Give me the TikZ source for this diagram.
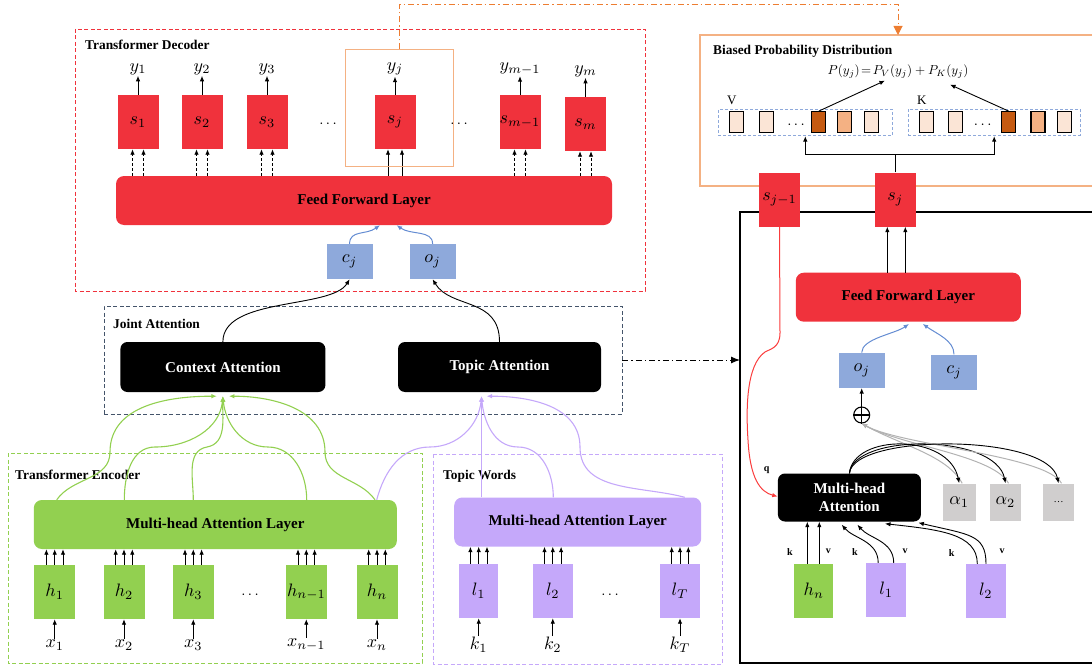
\documentclass[tikz,border=0pt]{standalone}
\usepackage{fontspec}
\setmainfont{Liberation Serif}
\usetikzlibrary{arrows.meta}

\definecolor{decred}{RGB}{240,50,60}
\definecolor{encgreen}{RGB}{146,208,80}
\definecolor{toppurple}{RGB}{197,168,250}
\definecolor{ctxblue}{RGB}{142,169,219}
\definecolor{arrowblue}{RGB}{100,140,210}
\definecolor{alphagray}{RGB}{208,206,206}
\definecolor{lineorange}{RGB}{244,177,131}
\definecolor{dashorange}{RGB}{237,125,49}
\definecolor{slate}{RGB}{68,84,106}
\definecolor{darkbrown}{RGB}{197,90,17}
\definecolor{palepeach}{RGB}{251,229,214}
\definecolor{qred}{RGB}{250,60,60}

\newcommand\mth[1]{\scalebox{1.8}{\normalsize$#1$}}
\newcommand\mdots{\scalebox{1.5}{\normalsize$\cdots$}}
\newcommand\bfs{\bfseries\fontsize{15}{17}\selectfont}
\newcommand\gfs{\bfseries\fontsize{13.4}{15}\selectfont}

\tikzset{
  cell/.style={inner sep=0pt, minimum width=41pt, minimum height=54pt},
  redcell/.style={cell, fill=decred},
  greencell/.style={cell, fill=encgreen},
  purplecell/.style={cell, fill=toppurple, minimum width=39.5pt},
  bluecell/.style={cell, fill=ctxblue, minimum width=46pt, minimum height=35pt},
  graycell/.style={cell, fill=alphagray, minimum width=32pt, minimum height=37pt},
  layer/.style={rounded corners=8pt, inner sep=0pt, minimum height=49pt, font=\bfs},
  attn/.style={layer, fill=black, text=white, rounded corners=7pt, minimum height=50pt},
  group/.style={dash pattern=on 4pt off 2.5pt, line width=0.8pt, inner sep=0pt},
  grouplabel/.style={anchor=west, inner sep=0pt, font=\gfs},
  lbl/.style={inner sep=1pt},
  dots/.style={inner sep=0pt},
  arr/.style={-{Latex[length=5.5pt,width=4.5pt]}, line width=0.9pt},
  dasharr/.style={arr, dash pattern=on 3pt off 2pt},
  greenarr/.style={arr, encgreen, line width=1.1pt},
  purplearr/.style={arr, toppurple, line width=1.1pt},
  bluearr/.style={arr, arrowblue, line width=1pt},
  grayarr/.style={arr, gray!60, line width=1pt},
  redarr/.style={arr, qred, line width=1pt},
  probcell/.style={draw, line width=1.1pt, minimum width=14pt, minimum height=21pt, inner sep=0pt},
  kv/.style={inner sep=0pt, font=\bfseries\fontsize{10}{12}\selectfont},
}

\begin{document}
\begin{tikzpicture}[x=1pt,y=-1pt]
\useasboundingbox (0,0) rectangle (1092,666);

% decoder
\draw[group, draw=decred] (75,29) rectangle (645,291);
\node[grouplabel] at (85,45) {Transformer Decoder};
\node[layer, fill=decred, minimum width=496pt] (ffl) at (364,200.5) {Feed Forward Layer};
\foreach \n/\x/\y/\i in {1/138/122/1, 2/202/122/2, 3/267/122/3, j/395/122/j, m1/520/122/{m-1}, m/585.5/124/m}{
  \node[redcell] (s\n) at (\x,\y) {\mth{s_{\i}}};
  \node[lbl] (y\n) at (\x,\y-53) {\mth{y_{\i}}};
  \draw[arr] (s\n.north) -- (y\n.south);
}
\foreach \n in {1,2,3,m1,m}{
  \draw[dasharr] ([xshift=-5.5pt]s\n.south |- ffl.north) -- ([xshift=-5.5pt]s\n.south);
  \draw[dasharr] ([xshift=5.5pt]s\n.south |- ffl.north) -- ([xshift=5.5pt]s\n.south);
}
\draw[arr] ([xshift=-7pt]sj.south |- ffl.north) -- ([xshift=-7pt]sj.south);
\draw[arr] ([xshift=7pt]sj.south |- ffl.north) -- ([xshift=7pt]sj.south);
\node[dots] at (328,124) {\mdots};
\node[dots] at (459,124) {\mdots};
\node[draw=lineorange, line width=1pt, minimum width=108pt, minimum height=116pt, inner sep=0pt] (sel) at (399,108) {};

\node[bluecell] (cj) at (349.6,261.5) {\mth{c_j}};
\node[bluecell] (oj) at (432.6,261.5) {\mth{o_j}};
\draw[bluearr] (cj.north) .. controls +(0,-14) and +(-14,10) .. ([xshift=16pt]ffl.south);
\draw[bluearr] (oj.north) .. controls +(0,-14) and +(14,10) .. ([xshift=32.6pt]ffl.south);

% joint attention
\node[group, draw=slate, minimum width=518pt, minimum height=108pt] (joint) at (363,360) {};
\node[grouplabel] at (113,324) {Joint Attention};
\node[attn, minimum width=205pt] (ctx) at (222.9,367) {Context Attention};
\node[attn, minimum width=203pt] (tpc) at (499.5,367) {Topic Attention};
\draw[arr] (ctx.north) .. controls +(0,-45) and +(-18,30) .. (cj.south);
\draw[arr] (tpc.north) .. controls +(0,-45) and +(18,30) .. (oj.south);
\coordinate (rin) at (740,360);
\draw[-{Latex[length=9pt,width=7pt]}, line width=1pt, dash pattern=on 6pt off 3pt on 1.5pt off 3pt] (joint.east) -- (rin);

% encoder
\draw[group, draw=encgreen] (8,453) rectangle (422,663);
\node[grouplabel] at (15,475) {Transformer Encoder};
\node[layer, fill=encgreen, minimum width=363pt] (emha) at (215.3,524.5) {Multi-head Attention Layer};
\foreach \n/\x/\i in {1/54.7/1, 2/124/2, 3/193.3/3, n1/306.3/{n-1}, n/377/n}{
  \node[greencell] (h\n) at (\x,592) {\mth{h_{\i}}};
  \node[lbl] (x\n) at (\x,645) {\mth{x_{\i}}};
  \draw[arr] (x\n.north) -- (h\n.south);
  \foreach \dx in {-8.3,0,8.3}
    \draw[arr] ([xshift=\dx pt]h\n.north) -- ([xshift=\dx pt]h\n.north |- emha.south);
}
\node[dots] at (250,595) {\mdots};

\draw[greenarr] ([xshift=-158.6pt]emha.north) to[out=55,in=-90] (110,452) to[out=90,in=180] ([xshift=-6pt,yshift=-4pt]ctx.south);
\draw[greenarr] ([xshift=-91pt]emha.north) to[out=90,in=180] (155,447) to[out=0,in=-95] ([yshift=-4pt]ctx.south);
\draw[greenarr] ([xshift=-22pt]emha.north) to[out=90,in=190] (207,447) to[out=10,in=-92] ([yshift=-4pt]ctx.south);
\draw[greenarr] ([xshift=91.4pt]emha.north) to[out=90,in=0] (268,447) to[out=180,in=-85] ([yshift=-4pt]ctx.south);
\draw[greenarr] ([xshift=159.7pt]emha.north) to[out=125,in=-90] (325,452) to[out=90,in=0] ([xshift=6pt,yshift=-4pt]ctx.south);

% topic words
\draw[group, draw=toppurple] (433,454) rectangle (722,664);
\node[grouplabel] at (443,476) {Topic Words};
\node[layer, fill=toppurple, minimum width=247pt] (tmha) at (577.7,522) {Multi-head Attention Layer};
\foreach \n/\x/\i in {1/478.7/1, 2/552.8/2, T/680/T}{
  \node[purplecell] (l\n) at (\x,591) {\mth{l_{\i}}};
  \node[lbl] (k\n) at (\x,645) {\mth{k_{\i}}};
  \draw[arr] (k\n.north) -- (l\n.south);
  \foreach \dx in {-8.3,0,8.3}
    \draw[arr] ([xshift=\dx pt]l\n.north) -- ([xshift=\dx pt]l\n.north |- tmha.south);
}
\node[dots] at (610,595) {\mdots};

\draw[purplearr] ([xshift=161.4pt]emha.north) to[out=75,in=180] (430,447) to[out=0,in=-95] ([xshift=-18pt,yshift=-4pt]tpc.south);
\draw[purplearr] ([xshift=-18pt]tpc.south |- tmha.north) -- ([xshift=-18pt,yshift=-4pt]tpc.south);
\draw[purplearr] ([xshift=-24.4pt]tmha.north) to[out=90,in=0] (518,447) to[out=180,in=-85] ([xshift=-18pt,yshift=-4pt]tpc.south);
\draw[purplearr] ([xshift=107pt]tmha.north) to[out=165,in=-90] (580,447) to[out=90,in=0] ([xshift=-13pt,yshift=-4pt]tpc.south);

% right panel
\draw[line width=1.5pt] (740,212) rectangle (1100,663);
\draw[lineorange, line width=1.2pt] (700,35) rectangle (1100,186);
\coordinate (ptop) at (898,35);
\draw[dashorange, line width=1pt, dash pattern=on 6pt off 3pt on 1.5pt off 3pt, -{Triangle[length=9pt,width=9pt]}] (sel.north) -- ++(0,-45) -| (ptop);

\node[grouplabel] at (713,51) {Biased Probability Distribution};
\node[inner sep=1pt] (pform) at (898,71.7) {\scalebox{1.3}{\normalsize$P(y_j)\!=\!P_V(y_j)+P_K(y_j)$}};
\node[inner sep=0pt, font=\fontsize{13}{15}\selectfont] at (731.7,100) {V};
\node[inner sep=0pt, font=\fontsize{13}{15}\selectfont] at (921.7,100) {K};
\node[draw=ctxblue, dash pattern=on 3pt off 2pt, line width=0.9pt, minimum width=174pt, minimum height=26.4pt, inner sep=0pt] (vbox) at (805.3,122.5) {};
\node[draw=ctxblue, dash pattern=on 3pt off 2pt, line width=0.9pt, minimum width=171.7pt, minimum height=26.4pt, inner sep=0pt] (kbox) at (994.2,122.5) {};
\foreach \nm/\x/\c in {v1/736.7/palepeach, v2/766.2/palepeach, v3/818.7/darkbrown, v4/844.5/lineorange, v5/871.2/palepeach,
                       k1/926.3/palepeach, k2/955.5/palepeach, k3/1008.7/darkbrown, k4/1038/lineorange, k5/1064.5/palepeach}
  \node[probcell, fill=\c] (\nm) at (\x,122.2) {};
\node[dots] at (796,125) {\mdots};
\node[dots] at (982.7,125) {\mdots};
\draw[arr] (v3.north) -- ([xshift=-13pt,yshift=-1pt]pform.south);
\draw[arr] (k3.north) -- ([xshift=52pt,yshift=-5pt]pform.south);

\node[redcell] (rsm1) at (779.5,199.5) {\mth{s_{j-1}}};
\node[redcell] (rsj) at (895.3,199.5) {\mth{s_j}};
\draw[line width=1pt] (rsj.north) -- ++(0,-18) coordinate (split);
\draw[arr] (split) -| (vbox.south);
\draw[arr] (split) -| (kbox.south);

\node[layer, fill=decred, minimum width=225pt] (rffl) at (908.3,297.2) {Feed Forward Layer};
\draw[arr] ([xshift=-8pt]rsj.south |- rffl.north) -- ([xshift=-8pt]rsj.south);
\draw[arr] ([xshift=10pt]rsj.south |- rffl.north) -- ([xshift=10pt]rsj.south);

\node[bluecell] (ro) at (861.7,370.3) {\mth{o_j}};
\node[bluecell] (rc) at (954,372) {\mth{c_j}};
\draw[bluearr] (ro.north) .. controls +(0,-14) and +(-14,10) .. ([xshift=0.7pt,yshift=-2pt]rffl.south);
\draw[bluearr] (rc.north) .. controls +(0,-14) and +(14,10) .. ([xshift=14.4pt,yshift=-2pt]rffl.south);

\node[circle, draw, line width=1.1pt, minimum size=16pt, inner sep=0pt] (oplus) at (861.7,415) {};
\draw[line width=1.1pt] (oplus.north) -- (oplus.south) (oplus.west) -- (oplus.east);
\draw[arr, line width=1.2pt] (oplus.north) -- (ro.south);

\node[attn, minimum width=143pt, minimum height=48pt, align=center, font=\bfseries\fontsize{15}{18.5}\selectfont] (rmha) at (849.4,497.5) {Multi-head\\Attention};
\node[graycell, minimum width=33pt] (a1) at (959.2,502) {\mth{\alpha_1}};
\node[graycell, minimum width=31pt] (a2) at (1005.5,502) {\mth{\alpha_2}};
\node[graycell, minimum width=31.6pt] (a3) at (1058.5,502) {\ldots};
\foreach \a in {a1,a2,a3}{
  \draw[grayarr] ([xshift=3pt]\a.north) .. controls +(-15,-28) and +(40,22) .. (oplus.south);
  \draw[arr] (rmha.north) .. controls +(4,-40) and +(-10,-50) .. (\a.north);
}

\node[greencell, minimum width=39pt] (rhn) at (813.8,591) {\mth{h_n}};
\node[purplecell] (rl1) at (886.2,590) {\mth{l_1}};
\node[purplecell] (rl2) at (985.8,591) {\mth{l_2}};
\draw[arr] ([xshift=-6.5pt]rhn.north) -- ([xshift=-6.5pt]rhn.north |- rmha.south);
\draw[arr] ([xshift=5.5pt]rhn.north) -- ([xshift=5.5pt]rhn.north |- rmha.south);
\draw[arr] ([xshift=-8pt]rl1.north) .. controls +(0,-22) and +(12,14) .. ([xshift=-7.7pt,yshift=-3pt]rmha.south);
\draw[arr] ([xshift=7.5pt]rl1.north) .. controls +(0,-22) and +(12,14) .. ([xshift=8pt,yshift=-3pt]rmha.south);
\draw[arr] ([xshift=-8.5pt]rl2.north) .. controls +(0,-30) and +(55,6) .. ([xshift=35.6pt,yshift=-2pt]rmha.south);
\draw[arr] ([xshift=0.2pt]rl2.north) .. controls +(0,-30) and +(50,12) .. ([xshift=69pt,yshift=-1pt]rmha.south);
\node[kv] at (790,551.7) {k};
\node[kv] at (828.3,551.7) {v};
\node[kv] at (855,551.7) {k};
\node[kv] at (905,551.7) {v};
\node[kv] at (951.7,553.3) {k};
\node[kv] at (1002,551.7) {v};

\draw[redarr] (rsm1.south) -- (780,333) .. controls (780,348) and (770,349) .. (765,352) .. controls (746,365) and (746,410) .. (748,440) .. controls (750,478) and (760,492) .. ([yshift=1pt]rmha.west);
\node[kv] at (766.7,470) {q};
\end{tikzpicture}
\end{document}
